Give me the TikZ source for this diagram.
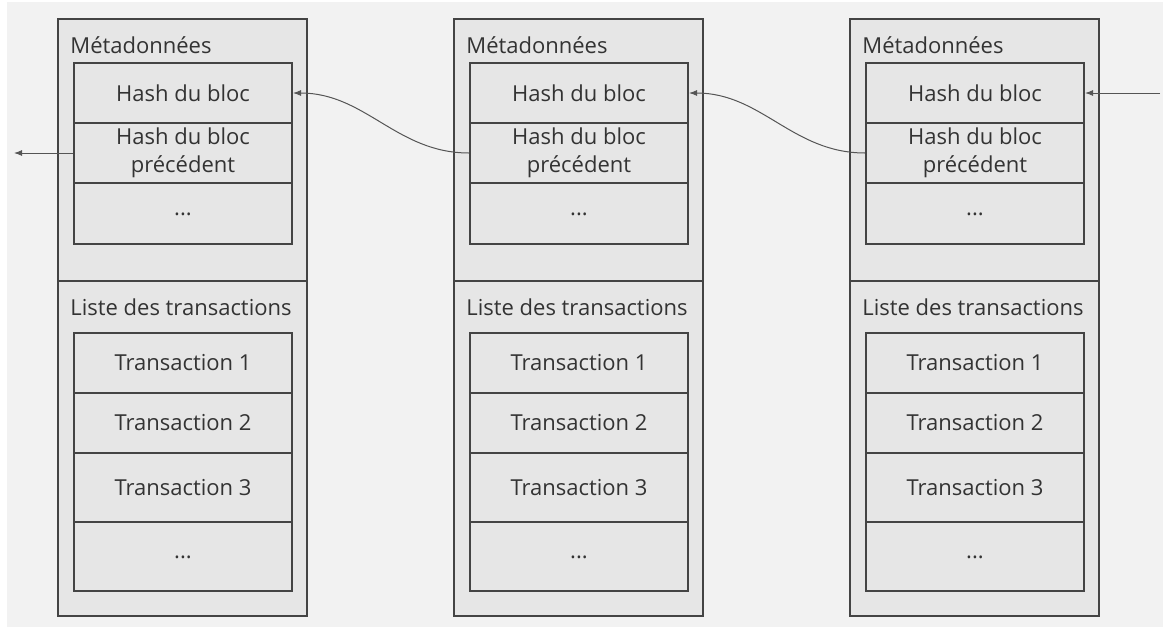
\documentclass[tikz,border=0pt]{standalone}
\usepackage{fontspec}
\setmainfont{Open Sans}
\usetikzlibrary{arrows.meta}
\definecolor{fondo}{HTML}{F2F2F2}
\definecolor{caja}{HTML}{E6E6E6}
\definecolor{borde}{HTML}{444444}
\definecolor{texto}{HTML}{333333}
\definecolor{flecha}{HTML}{555555}
\begin{document}
\begin{tikzpicture}[x=0.5pt,y=-0.5pt,
    every node/.style={font=\fontsize{11}{14}\selectfont, text=texto},
    bloque/.style={draw=borde, fill=caja, line width=1pt},
    titulo/.style={anchor=west, inner sep=0pt},
    celda/.style={draw=borde, fill=caja, line width=1pt, minimum width=109pt, inner sep=0pt, align=center},
    enlace/.style={draw=flecha, line width=0.5pt, -{Latex[length=4pt,width=3pt]}}]
        \useasboundingbox (0,0) rectangle (1163,627);
        \fill[fondo] (7,2) rectangle (1163,627);
        % Dibuja los tres bloques de la cadena
        \foreach \i/\x in {1/0, 2/396, 3/792} {
            \draw[bloque] (\x+58,19) rectangle (\x+307,281);
            \draw[bloque] (\x+58,281) rectangle (\x+307,616);
            \node[titulo] (meta\i) at (\x+70,45) {Métadonnées};
            \node[celda, minimum height=30pt] (hash\i) at (\x+183,93) {Hash du bloc};
            \node[celda, minimum height=30pt] (prev\i) at (\x+183,153) {Hash du bloc\\précédent};
            \node[celda, minimum height=30.5pt] (mdots\i) at (\x+183,213.5) {\raisebox{-2pt}{...}};
            \node[titulo] (lista\i) at (\x+70,307) {Liste des transactions};
            \node[celda, minimum height=30pt] (tx\i a) at (\x+183,363) {Transaction 1};
            \node[celda, minimum height=30pt] (tx\i b) at (\x+183,423) {Transaction 2};
            \node[celda, minimum height=34.5pt] (tx\i c) at (\x+183,487.5) {Transaction 3};
            \node[celda, minimum height=34.5pt] (tdots\i) at (\x+183,556.5) {\raisebox{-2pt}{...}};
        }
        \coordinate (salida) at (14,153);
        \coordinate (entrada) at (1160,93);
        \draw[enlace] (prev1.west) -- (salida);
        \draw[enlace] (prev2.west) to[out=180,in=0] (hash1.east);
        \draw[enlace] (prev3.west) to[out=180,in=0] (hash2.east);
        \draw[enlace] (entrada) -- (hash3.east);
\end{tikzpicture}
\end{document}
